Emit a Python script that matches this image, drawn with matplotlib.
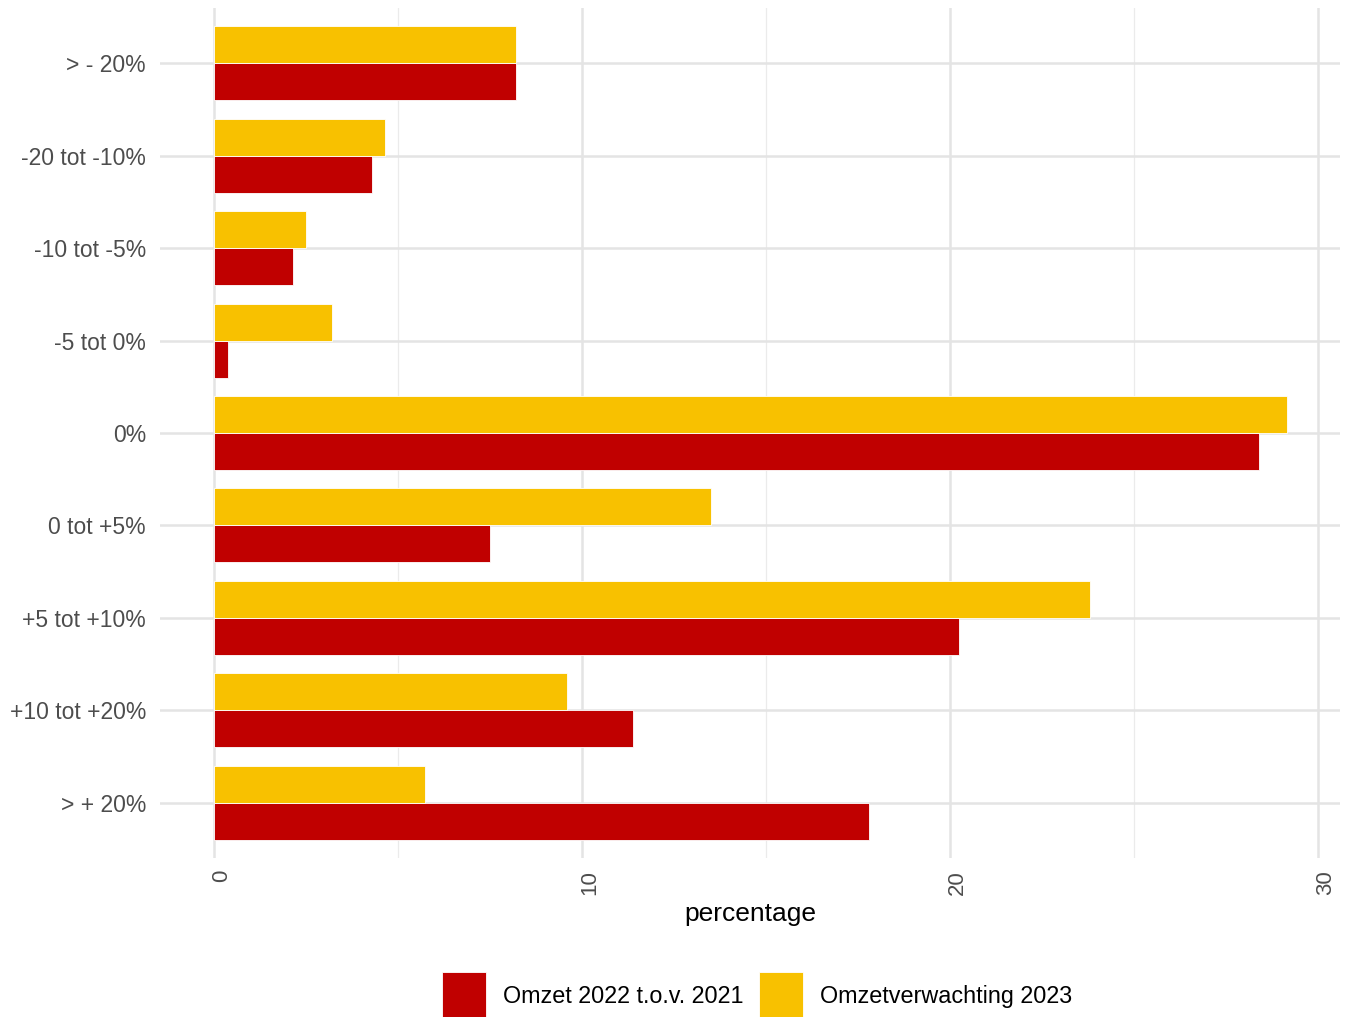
import matplotlib.pyplot as plt
import matplotlib.transforms as mtransforms
import numpy as np

# omzet-categorieën (van boven naar beneden)
categories = ["> - 20%", "-20 tot -10%", "-10 tot -5%", "-5 tot 0%", "0%",
              "0 tot +5%", "+5 tot +10%", "+10 tot +20%", "> + 20%"]
omzet_2022 = [8.2, 4.3, 2.15, 0.4, 28.4, 7.5, 20.25, 11.4, 17.8]
verwachting_2023 = [8.2, 4.65, 2.5, 3.2, 29.15, 13.5, 23.8, 9.6, 5.75]
series_labels = ["Omzet 2022 t.o.v. 2021", "Omzetverwachting 2023"]
x_ticks = [0, 10, 20, 30]

RED = "#C00000"
YELLOW = "#F8C100"

plt.rcParams['font.family'] = ['Liberation Sans', 'DejaVu Sans']

fig = plt.figure(figsize=(13.52, 10.17), dpi=100)
ax = fig.add_axes([160 / 1352, 1 - 858 / 1017, 1180 / 1352, 850 / 1017])

y = np.arange(len(categories))
h = 0.4
ax.barh(y + h / 2, omzet_2022, height=h, color=RED, edgecolor="white",
        linewidth=0.6, label=series_labels[0], zorder=3)
ax.barh(y - h / 2, verwachting_2023, height=h, color=YELLOW, edgecolor="white",
        linewidth=0.6, label=series_labels[1], zorder=3)

ax.set_ylim(len(categories) - 1 + 0.6, -0.6)
ax.set_xlim(-1.46, 30.6)

ax.set_yticks(y)
ax.set_yticklabels(categories)
ax.set_xticks(x_ticks)
ax.set_xticks([5, 15, 25], minor=True)

for spine in ax.spines.values():
    spine.set_visible(False)

ax.grid(which="major", color="#E4E4E4", linewidth=1.8, zorder=0)
ax.grid(which="minor", axis="x", color="#EBEBEB", linewidth=0.9, zorder=0)
ax.set_axisbelow(True)

ax.tick_params(axis="both", which="both", length=0, labelcolor="#4D4D4D")
ax.tick_params(axis="y", pad=10, labelsize=16.5)
ax.tick_params(axis="x", pad=8.5, labelsize=16)
offset = mtransforms.ScaledTranslation(8 / 100, 0, fig.dpi_scale_trans)
for lab in ax.get_xticklabels():
    lab.set_rotation(90)
    lab.set_transform(lab.get_transform() + offset)

ax.set_xlabel("percentage", fontsize=19, color="black")
ax.xaxis.set_label_coords(0.5, -0.052)

handles, labels = ax.get_legend_handles_labels()
fig.legend(handles, labels, loc="center", bbox_to_anchor=(757 / 1352, 0.021),
           ncol=2, frameon=False, fontsize=16.8, handlelength=1.89, handleheight=2.8,
           handletextpad=0.7, columnspacing=0.7, borderpad=0)

fig.savefig("out.png", dpi=100)
